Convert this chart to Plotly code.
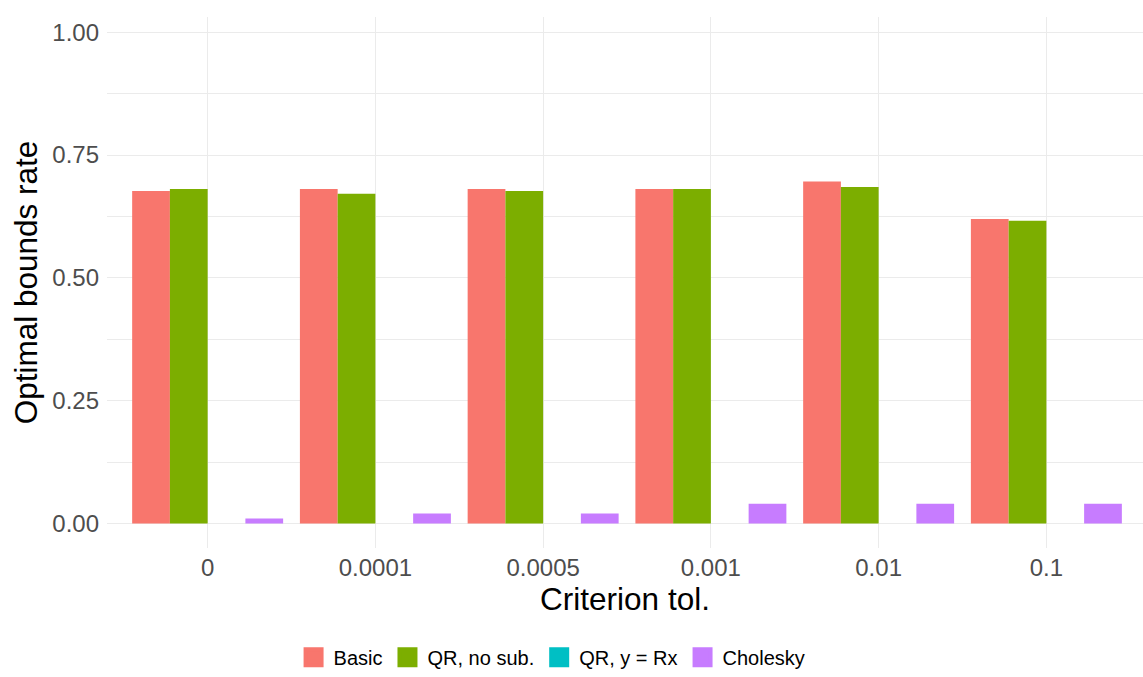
import plotly.graph_objects as go

categories = ["0", "0.0001", "0.0005", "0.001", "0.01", "0.1"]
series_names = ["Basic", "QR, no sub.", "QR, y = Rx", "Cholesky"]
basic = [0.677, 0.681, 0.681, 0.681, 0.696, 0.620]
qr_no_sub = [0.681, 0.671, 0.677, 0.681, 0.685, 0.616]
qr_y_rx = [0.0, 0.0, 0.0, 0.0, 0.0, 0.0]
cholesky = [0.01, 0.02, 0.02, 0.04, 0.04, 0.04]
colors = ["#F8766D", "#7CAE00", "#00BFC4", "#C77CFF"]
y_ticks = [0, 0.25, 0.5, 0.75, 1.0]

FONT = "Liberation Sans, Arial, sans-serif"

fig = go.Figure()
for name, vals, col in zip(series_names, [basic, qr_no_sub, qr_y_rx, cholesky], colors):
    fig.add_trace(go.Bar(x=categories, y=vals, name=name, marker=dict(color=col, line=dict(width=0)),
                         showlegend=False))
for name, col in zip(series_names, colors):
    fig.add_trace(go.Scatter(x=[None], y=[None], mode="markers", name=name,
                             marker=dict(symbol="square", size=16, color=col,
                                         line=dict(color=col, width=4))))

fig.update_layout(
    width=1143, height=677,
    paper_bgcolor="white", plot_bgcolor="white",
    margin=dict(l=107, r=0, t=17, b=129),
    barmode="group", bargap=0.1, bargroupgap=0,
    font=dict(family=FONT),
    showlegend=True,
    legend=dict(orientation="h", xref="container", yref="container", x=0.483, xanchor="center",
                y=0.029, yanchor="middle", font=dict(size=20, color="black"),
                itemsizing="trace", bgcolor="rgba(0,0,0,0)"),
    xaxis=dict(
        type="category", range=[-0.6, 5.576], showgrid=True, gridcolor="#EBEBEB", gridwidth=1.1,
        zeroline=False, showline=False, ticks="", tickfont=dict(size=24, color="#4D4D4D"),
        ticklabelstandoff=3, automargin=False,
        title=dict(text="Criterion tol.", font=dict(size=31.5, color="black"), standoff=3),
    ),
    yaxis=dict(
        range=[-0.05, 1.031], tickvals=y_ticks, tickformat=".2f", showgrid=True, gridcolor="#EBEBEB",
        gridwidth=1.1, zeroline=False, showline=False, ticks="",
        tickfont=dict(size=24, color="#4D4D4D"), ticklabelstandoff=7, automargin=False,
        minor=dict(tickvals=[0.125, 0.375, 0.625, 0.875], showgrid=True, gridcolor="#EBEBEB", gridwidth=0.55),
        title=dict(text="Optimal bounds rate", font=dict(size=31.5, color="black"), standoff=5),
    ),
)

fig.write_html("out.html", config={"displayModeBar": False},
               post_script="document.body.style.margin='0';document.body.style.overflow='hidden';")
